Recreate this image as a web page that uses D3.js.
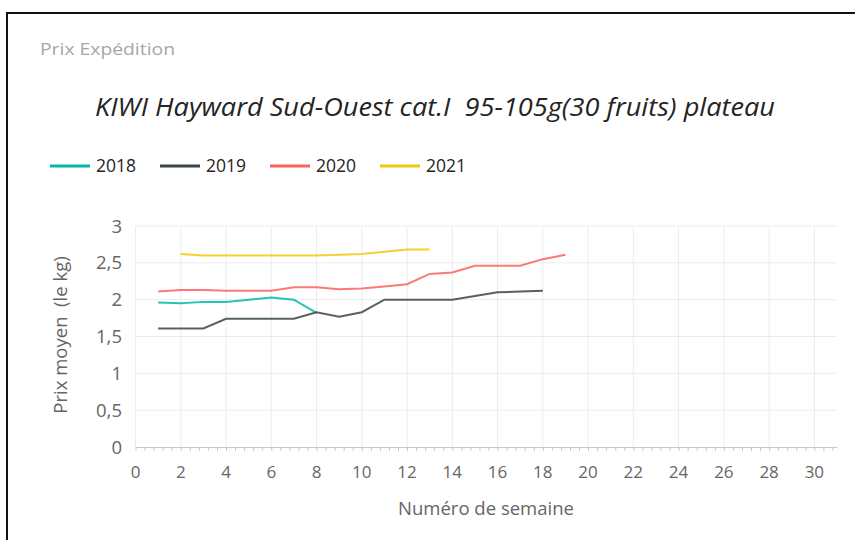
<!DOCTYPE html>
<html>
<head>
<meta charset="utf-8">
<script src="https://cdn.jsdelivr.net/npm/d3@7"></script>
<style>
  body { margin: 0; background: #fff; }
  svg { display: block; font-family: "Open Sans", sans-serif; }
  text { white-space: pre; }
  .grid line { stroke: #ececec; stroke-width: 1; }
  .tick-label { fill: #666; font-size: 17px; }
</style>
</head>
<body>
<div id="chart"></div>
<script>
// weeks and yearly series (price per kg)
var weeks2018 = [1, 2, 3, 4, 5, 6, 7, 8];
var values2018 = [1.96, 1.95, 1.97, 1.97, 2.00, 2.03, 2.00, 1.82];

var weeks2019 = [1, 2, 3, 4, 5, 6, 7, 8, 9, 10, 11, 12, 13, 14, 15, 16, 17, 18];
var values2019 = [1.61, 1.61, 1.61, 1.74, 1.74, 1.74, 1.74, 1.83, 1.77, 1.83, 2.00, 2.00, 2.00, 2.00, 2.05, 2.10, 2.11, 2.12];

var weeks2020 = [1, 2, 3, 4, 5, 6, 7, 8, 9, 10, 11, 12, 13, 14, 15, 16, 17, 18, 19];
var values2020 = [2.11, 2.13, 2.13, 2.12, 2.12, 2.12, 2.17, 2.17, 2.14, 2.15, 2.18, 2.21, 2.35, 2.37, 2.46, 2.46, 2.46, 2.55, 2.61];

var weeks2021 = [2, 3, 4, 5, 6, 7, 8, 9, 10, 11, 12, 13];
var values2021 = [2.62, 2.60, 2.60, 2.60, 2.60, 2.60, 2.60, 2.61, 2.62, 2.65, 2.68, 2.68];

var seriesNames = ["2018", "2019", "2020", "2021"];
var seriesColors = ["#01B8AA", "#374649", "#FD625E", "#F2C80F"];

var xTicks = d3.range(0, 31, 2);        // 0..30 step 2
var yTicks = [0, 0.5, 1, 1.5, 2, 2.5, 3];

var width = 855;
var height = 540;
var plot = { left: 135.5, right: 837, top: 226, bottom: 447 };

var svg = d3.select("#chart").append("svg")
    .attr("width", width)
    .attr("height", height);

// outer frame (only top and left visible in the crop)
svg.append("path")
    .attr("d", "M7,540 L7,13 L855,13")
    .attr("fill", "none")
    .attr("stroke", "#111")
    .attr("stroke-width", 2);

svg.append("text")
    .attr("x", 40)
    .attr("y", 55)
    .attr("fill", "#a6a6a6")
    .attr("textLength", 135)
    .attr("lengthAdjust", "spacingAndGlyphs")
    .style("font-size", "17px")
    .text("Prix Expédition");

svg.append("text")
    .attr("x", 95)
    .attr("y", 116)
    .attr("fill", "#252423")
    .attr("textLength", 680)
    .attr("lengthAdjust", "spacingAndGlyphs")
    .style("font-size", "25px")
    .style("font-style", "italic")
    .text("KIWI Hayward Sud-Ouest cat.I  95-105g(30 fruits) plateau");

var series = [
    { name: seriesNames[0], color: seriesColors[0], data: d3.zip(weeks2018, values2018) },
    { name: seriesNames[1], color: seriesColors[1], data: d3.zip(weeks2019, values2019) },
    { name: seriesNames[2], color: seriesColors[2], data: d3.zip(weeks2020, values2020) },
    { name: seriesNames[3], color: seriesColors[3], data: d3.zip(weeks2021, values2021) }
];

// legend
var legend = svg.selectAll(".legend-item")
    .data(series)
    .enter().append("g")
    .attr("class", "legend-item")
    .attr("transform", function(d, i) { return "translate(" + (50 + i * 110) + ",166)"; });

legend.append("line")
    .attr("x1", 0).attr("x2", 40)
    .attr("stroke", function(d) { return d.color; })
    .attr("stroke-width", 3);

legend.append("text")
    .attr("x", 46)
    .attr("y", 6)
    .attr("fill", "#252423")
    .style("font-size", "17.5px")
    .text(function(d) { return d.name; });

var x = d3.scaleLinear().domain([0, 31]).range([plot.left, plot.right]);
var y = d3.scaleLinear().domain([0, 3]).range([plot.bottom, plot.top]);

// gridlines
var grid = svg.append("g").attr("class", "grid");
grid.selectAll(".hline")
    .data(yTicks.filter(function(v) { return v > 0; }))
    .enter().append("line")
    .attr("x1", plot.left).attr("x2", plot.right)
    .attr("y1", function(d) { return y(d); })
    .attr("y2", function(d) { return y(d); });

grid.selectAll(".vline")
    .data(xTicks)
    .enter().append("line")
    .attr("x1", function(d) { return x(d); })
    .attr("x2", function(d) { return x(d); })
    .attr("y1", plot.top).attr("y2", plot.bottom);

// x axis with minor ticks
var xAxis = svg.append("g")
    .attr("transform", "translate(0," + plot.bottom + ")")
    .call(d3.axisBottom(x)
        .tickValues(d3.range(0, 31.01, 0.4))
        .tickSize(4)
        .tickSizeOuter(0)
        .tickFormat(""));
xAxis.select(".domain").attr("stroke", "#c8c8c8");
xAxis.selectAll(".tick line").attr("stroke", "#c8c8c8");

svg.selectAll(".x-label")
    .data(xTicks)
    .enter().append("text")
    .attr("class", "tick-label")
    .attr("x", function(d) { return x(d); })
    .attr("y", 478)
    .attr("text-anchor", "middle")
    .text(function(d) { return d; });

svg.selectAll(".y-label")
    .data(yTicks)
    .enter().append("text")
    .attr("class", "tick-label")
    .attr("x", 122)
    .attr("y", function(d) { return y(d) + 6.5; })
    .attr("text-anchor", "end")
    .style("font-size", "18.5px")
    .text(function(d) { return d3.format("~g")(d).replace(".", ","); });

svg.append("text")
    .attr("x", 486)
    .attr("y", 515)
    .attr("text-anchor", "middle")
    .attr("fill", "#666")
    .style("font-size", "18.5px")
    .text("Numéro de semaine");

svg.append("text")
    .attr("transform", "translate(67,335) rotate(-90)")
    .attr("text-anchor", "middle")
    .attr("fill", "#666")
    .style("font-size", "18.5px")
    .text("Prix moyen  (le kg)");

// lines
var line = d3.line()
    .x(function(d) { return x(d[0]); })
    .y(function(d) { return y(d[1]); });

svg.selectAll(".series")
    .data(series)
    .enter().append("path")
    .attr("class", "series")
    .attr("fill", "none")
    .attr("stroke", function(d) { return d.color; })
    .attr("stroke-width", 2)
    .attr("stroke-opacity", 0.85)
    .attr("d", function(d) { return line(d.data); });
</script>
</body>
</html>
